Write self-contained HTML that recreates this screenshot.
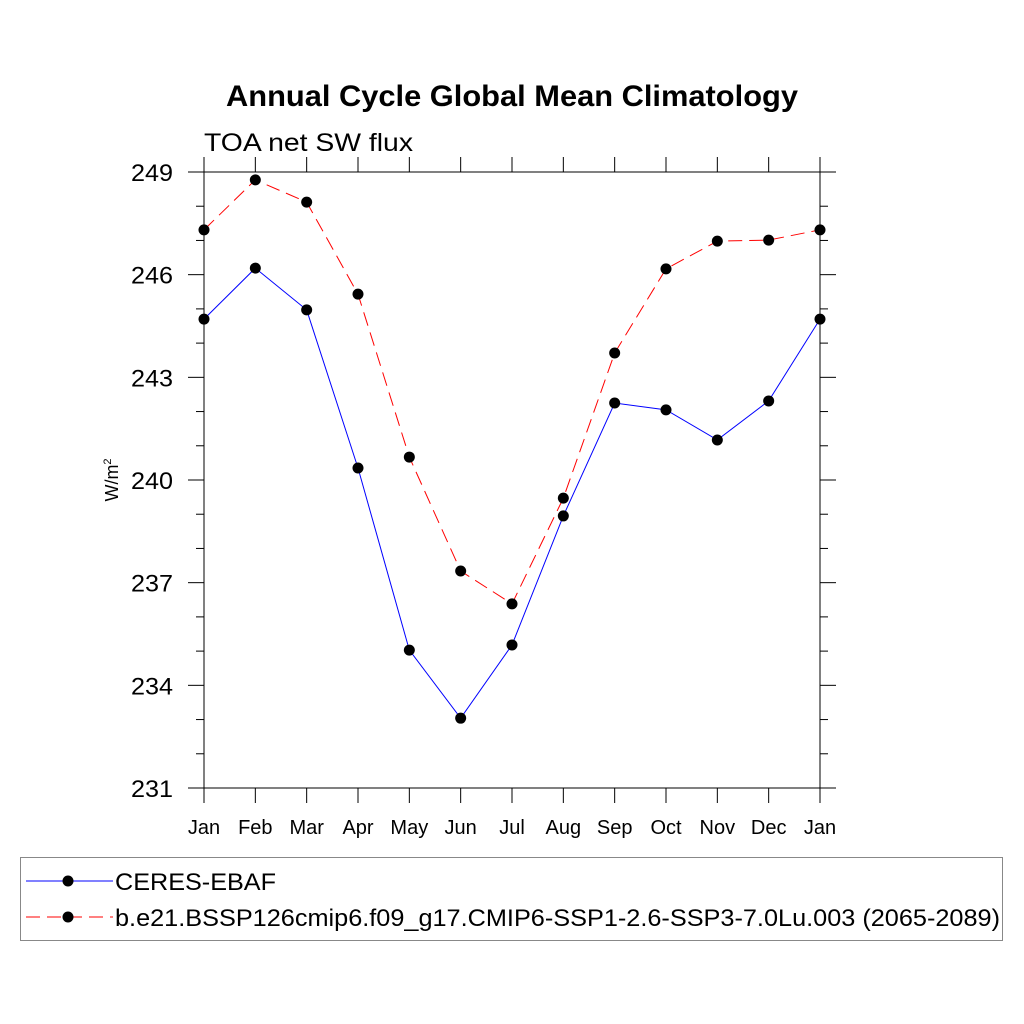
<!DOCTYPE html>
<html><head><meta charset="utf-8"><style>
html,body{margin:0;padding:0;background:#fff;}
svg{display:block;font-family:"Liberation Sans",Arial,sans-serif;}
</style></head><body>
<svg id="chart" width="1024" height="1024" viewBox="0 0 1024 1024">
<rect width="1024" height="1024" fill="#fff"/>
<text x="226" y="106" font-size="30" font-weight="bold" textLength="572" lengthAdjust="spacingAndGlyphs">Annual Cycle Global Mean Climatology</text>
<text x="204" y="151" font-size="25" textLength="209" lengthAdjust="spacingAndGlyphs">TOA net SW flux</text>
<text transform="translate(118,480) rotate(-90)" text-anchor="middle" font-size="18">W/m<tspan font-size="11" dy="-7">2</tspan></text>
<g id="axes"></g>
<g id="series"></g>
<g>
<rect x="20.5" y="857.5" width="982" height="83" fill="none" stroke="#888" stroke-width="1"/>
<g>
<line x1="26" y1="881" x2="113" y2="881" stroke="#0000ff" stroke-width="1"/>
<circle cx="68" cy="881" r="5.5" fill="#000"/>
<text x="115" y="890" font-size="24" textLength="161" lengthAdjust="spacingAndGlyphs">CERES-EBAF</text>
</g>
<g>
<line x1="26" y1="917" x2="113" y2="917" stroke="#ff0000" stroke-width="1" stroke-dasharray="14,7"/>
<circle cx="68" cy="917" r="5.5" fill="#000"/>
<text x="115" y="926" font-size="24" textLength="885" lengthAdjust="spacingAndGlyphs">b.e21.BSSP126cmip6.f09_g17.CMIP6-SSP1-2.6-SSP3-7.0Lu.003 (2065-2089)</text>
</g>
</g>
</svg>
<script>
const months = ["Jan","Feb","Mar","Apr","May","Jun","Jul","Aug","Sep","Oct","Nov","Dec","Jan"];
const ceres = [244.70,246.19,244.97,240.35,235.03,233.04,235.18,238.95,242.25,242.05,241.17,242.31,244.70];
const model = [247.31,248.77,248.12,245.43,240.67,237.34,236.38,239.47,243.71,246.17,246.98,247.01,247.31];
const yTicks = [231,234,237,240,243,246,249];
const yMin = 231, yMax = 249;
const X0 = 204, X1 = 820, Y0 = 788, Y1 = 172;
function xs(i){return X0 + (X1-X0)*i/(months.length-1);}
function ys(v){return Y0 - (Y0-Y1)*(v-yMin)/(yMax-yMin);}
const NS = "http://www.w3.org/2000/svg";
function mk(tag, attrs, parent){const e=document.createElementNS(NS,tag);for(const k in attrs)e.setAttribute(k,attrs[k]);parent.appendChild(e);return e;}
const ax = document.getElementById('axes');
const sg = document.getElementById('series');
let l;
l = mk('line',{x1:X0,y1:157,x2:X0,y2:803,stroke:'#000','stroke-width':1},ax);


l = mk('line',{x1:X1,y1:157,x2:X1,y2:803,stroke:'#000','stroke-width':1},ax);


l = mk('line',{x1:188,y1:Y0,x2:836,y2:Y0,stroke:'#000','stroke-width':1},ax);


l = mk('line',{x1:188,y1:Y1,x2:836,y2:Y1,stroke:'#000','stroke-width':1},ax);


for(let v=yMin; v<=yMax; v++){
  const y = ys(v);
  const major = yTicks.includes(v);
  const len = major ? 16 : 8;
  l = mk('line',{x1:X0-len,y1:y,x2:X0,y2:y,stroke:'#000','stroke-width':1},ax);
  
  
  l = mk('line',{x1:X1,y1:y,x2:X1+len,y2:y,stroke:'#000','stroke-width':1},ax);
  
  
  if(major){
    const t = mk('text',{x:173,y:y+9,'text-anchor':'end','font-size':24,textLength:42,lengthAdjust:'spacingAndGlyphs'},ax);
    t.textContent = v;
    
    
  }
}
months.forEach((m,i)=>{
  const x = xs(i);
  l = mk('line',{x1:x,y1:Y0,x2:x,y2:Y0+15,stroke:'#000','stroke-width':1},ax);
  
  
  l = mk('line',{x1:x,y1:Y1-15,x2:x,y2:Y1,stroke:'#000','stroke-width':1},ax);
  
  
  const t = mk('text',{x:x,y:834,'text-anchor':'middle','font-size':20},ax);
  t.textContent = m;
  
  
});
function drawSeries(vals,color,dash,name){
  const p = mk('polyline',{points:vals.map((v,i)=>xs(i)+','+ys(v)).join(' '),fill:'none',stroke:color,'stroke-width':1},sg);
  if(dash) p.setAttribute('stroke-dasharray',dash);
  
  
  vals.forEach((v,i)=>{
    const c = mk('circle',{cx:xs(i),cy:ys(v),r:5.5,fill:'#000'},sg);
    
    
  });
}
drawSeries(ceres,'#0000ff',null,'ceres');
drawSeries(model,'#ff0000','14,7','model');
</script>
</body></html>
